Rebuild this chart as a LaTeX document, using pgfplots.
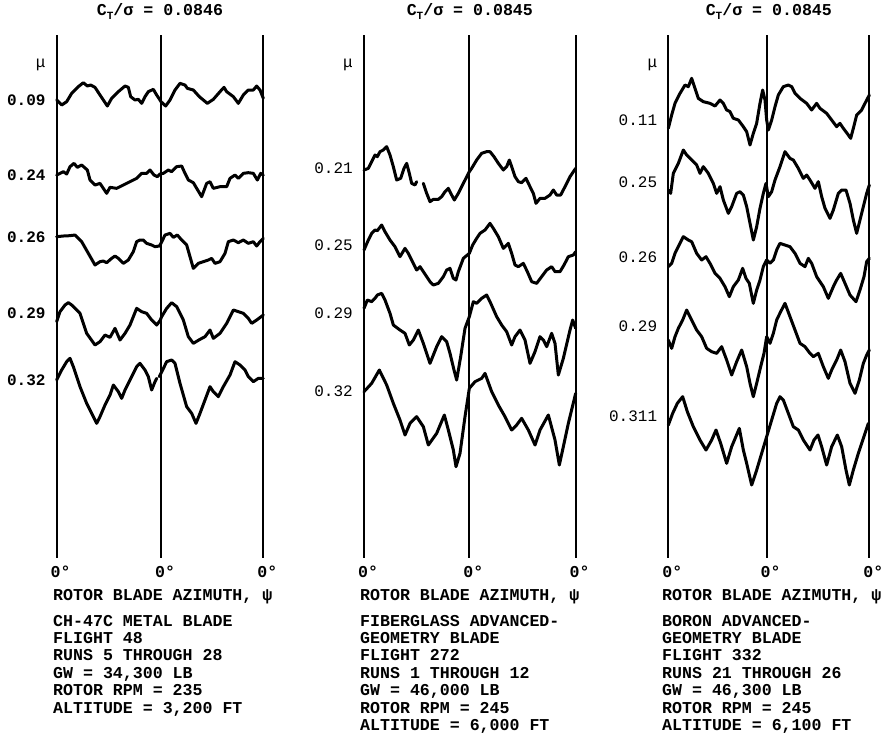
\documentclass[border=0pt]{standalone}
\usepackage{fontspec}
\setmainfont{Liberation Mono}
\usepackage{pgfplots}
\pgfplotsset{compat=1.18}
\pgfplotsset{
  panel/.style={
    scale only axis, y dir=reverse, clip=false,
    anchor=north west,
    axis line style={draw=none},
    major tick length=0pt,
    tick style={draw=none},
    xmajorgrids, major grid style={black, line width=2pt},
    ymin=105, ymax=1674, height=523pt,
    xticklabels={0°,0°,0°},
    xticklabel style={anchor=north, inner sep=0pt, yshift=-8pt, xshift=4pt, font=\fontsize{16.6}{17}\selectfont\bfseries},
    yticklabel style={anchor=east, inner sep=0pt, xshift=-11pt, font=\fontsize{16}{17}\selectfont},
    title style={at={(0.5,1)}, anchor=center, yshift=17.5pt, font=\fontsize{16.6}{17}\selectfont\bfseries},
    every axis plot post/.append style={black, solid, line width=3pt, line join=round, line cap=round, mark=none},
  }
}
\newcommand{\sub}[1]{\raisebox{-0.35ex}{\fontsize{11}{11}\selectfont #1}}
\begin{document}
\begin{tikzpicture}
\useasboundingbox (0,0) rectangle (889pt,-734pt);
% ---------------- Panel 1
\begin{axis}[panel, at={(56.67pt,-35pt)}, width=206.67pt,
  xmin=170, xmax=790, xtick={170,483,790},
  ytick={195,300,525,712,940,1140},
  yticklabels={μ,\bfseries 0.09,\bfseries 0.24,\bfseries 0.26,\bfseries 0.29,\bfseries 0.32},
  title={C\sub{T}/σ = 0.0846}]
\addplot coordinates {(170,300) (185,315) (200,305) (215,280) (235,260) (250,248) (262,258) (272,255) (285,262) (300,285) (322,318) (335,295) (355,275) (375,258) (385,262) (392,290) (405,300) (415,298) (425,310) (435,290) (445,275) (460,268) (470,285) (480,300) (483,305) (497,318) (510,300) (525,270) (540,250) (555,255) (562,265) (580,270) (598,290) (622,310) (640,298) (660,275) (672,262) (680,275) (700,290) (715,310) (730,285) (745,270) (760,270) (770,258) (780,270) (790,295)};
\addplot coordinates {(170,525) (180,520) (190,515) (200,522) (210,500) (222,490) (232,502) (245,495) (262,510) (270,540) (285,555) (300,550) (310,565) (320,580) (330,562) (350,565) (370,555) (390,545) (410,535) (425,520) (440,520) (450,510) (462,525) (472,530) (480,522) (490,520) (505,510) (515,515) (530,500) (545,498) (555,520) (565,540) (580,548) (590,565) (605,590) (620,550) (630,545) (640,565) (660,560) (680,560) (690,535) (705,525) (715,535) (730,520) (745,518) (760,520) (772,540) (782,520) (790,525)};
\addplot coordinates {(170,710) (190,708) (210,707) (225,705) (245,725) (265,760) (285,795) (300,785) (310,783) (320,788) (335,775) (345,768) (355,775) (370,790) (385,780) (400,755) (410,725) (420,720) (430,720) (440,730) (455,735) (465,740) (478,738) (483,730) (495,705) (510,700) (520,712) (532,705) (545,720) (560,735) (570,770) (580,805) (595,790) (610,785) (625,780) (635,775) (645,790) (660,785) (675,760) (685,725) (700,720) (715,728) (730,720) (745,730) (760,725) (770,738) (780,725) (790,715)};
\addplot coordinates {(170,965) (180,935) (195,915) (205,908) (215,915) (240,940) (260,1000) (285,1035) (300,1025) (315,1005) (330,1012) (345,985) (360,1020) (375,1000) (390,975) (410,925) (425,935) (440,940) (455,960) (470,975) (480,962) (485,950) (500,925) (515,908) (530,920) (550,960) (565,1010) (580,1030) (600,1018) (615,1010) (630,990) (640,1015) (660,1000) (680,970) (700,930) (715,935) (730,940) (745,955) (755,970) (770,960) (790,945)};
\addplot[line width=2.4pt] coordinates {(170,1140) (185,1110) (200,1085) (210,1075) (220,1100) (240,1160) (260,1210) (290,1270) (300,1250) (315,1215) (330,1185) (340,1155) (355,1175) (365,1195) (375,1170) (390,1140) (410,1100) (420,1090) (435,1110) (445,1130) (455,1170) (465,1145) (470,1135)};
\addplot[line width=2.4pt] coordinates {(478,1130) (483,1120) (500,1085) (515,1080) (525,1090) (540,1150) (560,1220) (575,1240) (588,1270) (600,1240) (615,1200) (630,1160) (640,1175) (655,1190) (670,1160) (690,1125) (705,1085) (720,1095) (735,1110) (745,1130) (760,1145) (775,1135) (790,1135)};
\end{axis}
% ---------------- Panel 2
\begin{axis}[panel, at={(364pt,-35pt)}, width=211.67pt,
  xmin=222, xmax=857, xtick={222,538,857},
  ytick={195,505,735,940,1175},
  yticklabels={μ,0.21,0.25,0.29,0.32},
  title={C\sub{T}/σ = 0.0845}]
\addplot coordinates {(222,510) (235,505) (245,485) (255,465) (262,470) (270,455) (280,450) (290,440) (300,465) (310,500) (320,540) (332,535) (342,505) (350,490) (358,520) (365,550) (375,555) (380,545)};
\addplot coordinates {(400,550) (410,580) (420,605) (430,598) (445,598) (455,590) (465,575) (475,565) (485,585) (493,600) (505,580) (520,550) (538,515) (545,505) (560,480) (575,460) (590,455) (600,455) (612,470) (625,490) (640,510) (650,500) (658,480) (665,500) (675,530) (685,545) (695,548) (708,535) (720,560) (730,580) (738,610) (750,595) (765,595) (780,585) (790,570) (800,585) (812,585) (825,560) (840,530) (857,505)};
\addplot coordinates {(222,750) (235,720) (245,700) (255,690) (262,692) (275,675) (285,695) (300,720) (315,740) (330,770) (345,745) (355,760) (370,790) (380,810) (390,800) (400,815) (420,845) (430,855) (445,850) (460,830) (470,810) (480,805) (490,835) (498,840) (505,815) (520,775) (538,760) (548,735) (560,715) (570,700) (585,690) (600,670) (610,685) (625,710) (640,745) (655,730) (665,760) (675,795) (685,800) (700,790) (712,815) (725,845) (740,850) (755,830) (770,810) (785,800) (795,815) (810,815) (822,795) (835,770) (850,765) (857,755)};
\addplot coordinates {(222,925) (232,900) (245,905) (255,895) (262,885) (275,880) (285,900) (300,940) (310,975) (330,990) (345,1000) (358,1035) (370,1020) (385,990) (400,1030) (420,1090) (440,1040) (455,1010) (470,1025) (480,1060) (492,1110) (500,1140) (512,1070) (525,985) (538,950) (550,905) (560,910) (575,895) (590,885) (600,905) (620,950) (635,975) (650,995) (665,1035) (675,1010) (690,990) (705,1020) (720,1090) (735,1055) (750,1010) (760,1020) (770,1040) (785,1000) (795,1030) (805,1125) (820,1075) (840,990) (848,960) (857,985)};
\addplot coordinates {(222,1175) (245,1150) (268,1110) (290,1155) (310,1210) (330,1260) (345,1305) (360,1270) (380,1250) (400,1280) (415,1335) (440,1300) (463,1245) (475,1290) (490,1350) (498,1400) (510,1360) (525,1250) (538,1165) (555,1145) (575,1135) (585,1120) (605,1175) (625,1215) (645,1250) (665,1290) (680,1275) (695,1255) (715,1290) (735,1335) (750,1290) (775,1245) (795,1320) (808,1395) (820,1340) (835,1270) (857,1180)};
\end{axis}
% ---------------- Panel 3
\begin{axis}[panel, at={(668.33pt,-35pt)}, width=201pt,
  xmin=235, xmax=838, xtick={235,530,838},
  ytick={195,360,548,773,980,1250},
  yticklabels={μ,0.11,0.25,0.26,0.29,0.311},
  title={C\sub{T}/σ = 0.0845}]
\addplot coordinates {(235,385) (245,345) (255,310) (270,280) (285,255) (295,260) (305,235) (315,265) (325,295) (340,305) (360,310) (375,318) (390,300) (400,310) (410,330) (420,335) (430,355) (445,360) (460,380) (470,395) (480,435) (490,400) (500,370) (510,310) (518,270) (525,300) (530,360) (535,390) (545,360) (555,320) (565,285) (580,260) (595,255) (605,260) (615,280) (630,295) (650,310) (665,330) (680,310) (690,325) (710,340) (725,360) (740,380) (750,370) (760,385) (775,405) (782,415) (790,385) (800,345) (815,330) (825,310) (838,285)};
\addplot coordinates {(235,570) (242,580) (250,520) (265,490) (280,450) (290,465) (305,480) (320,495) (330,520) (340,500) (355,520) (370,550) (380,580) (390,560) (400,600) (415,640) (425,620) (440,580) (450,575) (460,585) (470,620) (480,670) (490,720) (500,680) (510,625) (520,580) (528,550) (535,590) (545,575) (555,540) (570,500) (585,455) (600,475) (610,480) (625,505) (640,535) (650,525) (660,540) (675,565) (685,545) (695,590) (705,625) (720,655) (730,630) (745,580) (755,570) (768,570) (780,610) (790,660) (800,700) (810,660) (820,620) (830,580) (838,555)};
\addplot coordinates {(235,800) (245,790) (255,760) (270,730) (280,710) (295,720) (305,725) (320,760) (335,780) (348,770) (360,790) (375,820) (390,835) (405,860) (418,890) (430,860) (445,840) (458,805) (468,835) (478,850) (490,910) (500,870) (510,840) (520,800) (530,780) (540,790) (550,780) (560,750) (570,730) (585,735) (600,740) (615,760) (630,790) (645,800) (655,775) (665,790) (680,830) (700,860) (715,895) (730,860) (740,840) (752,820) (765,850) (780,885) (798,905) (810,870) (822,830) (830,785) (838,775)};
\addplot coordinates {(235,1020) (245,1045) (255,1010) (265,985) (278,960) (290,930) (305,960) (320,990) (335,1010) (350,1045) (365,1055) (380,1060) (395,1040) (410,1080) (425,1125) (440,1085) (455,1050) (470,1100) (480,1150) (490,1190) (500,1150) (512,1100) (522,1060) (530,1010) (540,1030) (550,1000) (560,960) (572,935) (585,910) (600,950) (615,990) (630,1030) (645,1040) (660,1060) (670,1070) (685,1060) (700,1100) (715,1135) (725,1110) (740,1080) (752,1050) (765,1085) (780,1150) (795,1180) (808,1140) (820,1090) (830,1065) (838,1050)};
\addplot coordinates {(235,1275) (248,1240) (262,1210) (278,1190) (292,1235) (310,1280) (330,1320) (348,1350) (365,1320) (378,1290) (392,1330) (410,1390) (425,1340) (448,1285) (460,1350) (470,1390) (485,1455) (500,1410) (515,1360) (530,1310) (545,1260) (560,1210) (570,1190) (580,1200) (595,1240) (610,1280) (625,1290) (640,1320) (660,1350) (672,1320) (684,1305) (695,1340) (710,1395) (725,1340) (742,1305) (755,1340) (768,1410) (778,1455) (790,1410) (805,1360) (820,1315) (835,1270)};
\end{axis}
% ---------------- Captions
\begin{scope}[every node/.style={anchor=base west, inner sep=0pt, font=\fontsize{16.6}{17}\selectfont\bfseries}]
\node at (53pt,-600pt) {ROTOR BLADE AZIMUTH, ψ};
\node at (53pt,-626pt) {CH-47C METAL BLADE};
\node at (53pt,-643.4pt) {FLIGHT 48};
\node at (53pt,-660.8pt) {RUNS 5 THROUGH 28};
\node at (53pt,-678.2pt) {GW = 34,300 LB};
\node at (53pt,-695.6pt) {ROTOR RPM = 235};
\node at (53pt,-713pt) {ALTITUDE = 3,200 FT};
\node at (360pt,-600pt) {ROTOR BLADE AZIMUTH, ψ};
\node at (360pt,-626pt) {FIBERGLASS ADVANCED-};
\node at (360pt,-643.4pt) {GEOMETRY BLADE};
\node at (360pt,-660.8pt) {FLIGHT 272};
\node at (360pt,-678.2pt) {RUNS 1 THROUGH 12};
\node at (360pt,-695.6pt) {GW = 46,000 LB};
\node at (360pt,-713pt) {ROTOR RPM = 245};
\node at (360pt,-730.4pt) {ALTITUDE = 6,000 FT};
\node at (662pt,-600pt) {ROTOR BLADE AZIMUTH, ψ};
\node at (662pt,-626pt) {BORON ADVANCED-};
\node at (662pt,-643.4pt) {GEOMETRY BLADE};
\node at (662pt,-660.8pt) {FLIGHT 332};
\node at (662pt,-678.2pt) {RUNS 21 THROUGH 26};
\node at (662pt,-695.6pt) {GW = 46,300 LB};
\node at (662pt,-713pt) {ROTOR RPM = 245};
\node at (662pt,-730.4pt) {ALTITUDE = 6,100 FT};
\end{scope}
\end{tikzpicture}
\end{document}
